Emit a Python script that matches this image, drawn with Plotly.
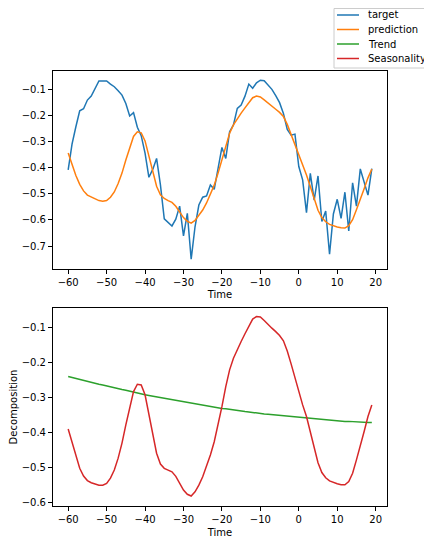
import plotly.graph_objects as go
from plotly.subplots import make_subplots

# time steps -60 .. 19
time = list(range(-60, 20))

target = [
    -0.409, -0.310, -0.244, -0.183, -0.175, -0.142, -0.127, -0.097, -0.069, -0.069,
    -0.069, -0.081, -0.091, -0.106, -0.123, -0.155, -0.203, -0.190, -0.246, -0.278,
    -0.345, -0.437, -0.407, -0.365, -0.466, -0.596, -0.610, -0.623, -0.597, -0.547,
    -0.661, -0.575, -0.750, -0.626, -0.543, -0.513, -0.508, -0.466, -0.483, -0.396,
    -0.323, -0.365, -0.263, -0.237, -0.174, -0.161, -0.127, -0.081, -0.097, -0.076,
    -0.066, -0.068, -0.083, -0.101, -0.125, -0.152, -0.193, -0.254, -0.276, -0.272,
    -0.396, -0.447, -0.572, -0.422, -0.524, -0.432, -0.606, -0.566, -0.731, -0.577,
    -0.521, -0.594, -0.494, -0.642, -0.458, -0.547, -0.405, -0.455, -0.505, -0.404,
]

prediction = [
    -0.344, -0.387, -0.430, -0.464, -0.489, -0.505, -0.513, -0.520, -0.526, -0.528,
    -0.526, -0.513, -0.493, -0.461, -0.421, -0.371, -0.322, -0.281, -0.263, -0.267,
    -0.298, -0.358, -0.422, -0.471, -0.504, -0.518, -0.526, -0.533, -0.548, -0.568,
    -0.591, -0.605, -0.612, -0.602, -0.584, -0.562, -0.535, -0.504, -0.467, -0.421,
    -0.371, -0.315, -0.269, -0.237, -0.213, -0.192, -0.172, -0.150, -0.133, -0.127,
    -0.130, -0.141, -0.154, -0.165, -0.177, -0.189, -0.205, -0.235, -0.273, -0.316,
    -0.355, -0.394, -0.428, -0.472, -0.518, -0.563, -0.591, -0.607, -0.617, -0.623,
    -0.627, -0.630, -0.631, -0.622, -0.599, -0.561, -0.524, -0.481, -0.439, -0.406,
]

trend = [
    -0.241, -0.244, -0.247, -0.249, -0.252, -0.255, -0.257, -0.260, -0.263, -0.265,
    -0.268, -0.270, -0.273, -0.275, -0.278, -0.280, -0.283, -0.285, -0.288, -0.290,
    -0.293, -0.295, -0.297, -0.299, -0.301, -0.303, -0.306, -0.308, -0.310, -0.312,
    -0.314, -0.316, -0.318, -0.320, -0.321, -0.323, -0.325, -0.327, -0.328, -0.330,
    -0.332, -0.333, -0.335, -0.336, -0.338, -0.339, -0.341, -0.342, -0.344, -0.345,
    -0.347, -0.348, -0.349, -0.350, -0.352, -0.353, -0.354, -0.355, -0.356, -0.358,
    -0.359, -0.360, -0.361, -0.362, -0.363, -0.364, -0.364, -0.365, -0.366, -0.367,
    -0.368, -0.368, -0.369, -0.369, -0.370, -0.370, -0.371, -0.371, -0.372, -0.372,
]

seasonality = [
    -0.391, -0.431, -0.471, -0.503, -0.525, -0.538, -0.544, -0.548, -0.551, -0.551,
    -0.546, -0.531, -0.508, -0.474, -0.431, -0.379, -0.327, -0.284, -0.263, -0.265,
    -0.293, -0.351, -0.413, -0.460, -0.491, -0.503, -0.508, -0.513, -0.526, -0.544,
    -0.565, -0.577, -0.582, -0.570, -0.551, -0.527, -0.498, -0.465, -0.427, -0.379,
    -0.327, -0.270, -0.222, -0.189, -0.163, -0.141, -0.119, -0.096, -0.077, -0.070,
    -0.071, -0.081, -0.093, -0.103, -0.113, -0.124, -0.139, -0.168, -0.205, -0.246,
    -0.284, -0.322, -0.355, -0.398, -0.443, -0.487, -0.515, -0.530, -0.539, -0.544,
    -0.547, -0.550, -0.550, -0.541, -0.517, -0.479, -0.441, -0.398, -0.355, -0.322,
]

series_names = ["target", "prediction", "Trend", "Seasonality"]
colors = ["#1f77b4", "#ff7f0e", "#2ca02c", "#d62728"]

x_ticks = [-60, -50, -40, -30, -20, -10, 0, 10, 20]
top_y_ticks = [-0.1, -0.2, -0.3, -0.4, -0.5, -0.6, -0.7]
bottom_y_ticks = [-0.1, -0.2, -0.3, -0.4, -0.5, -0.6]

# page adds an 8px body margin, so positions below are in figure pixels
W, H = 432, 544
ML, MR, MT, MB = 45, 53, 63, 46


def minus(v):
    return str(v).replace("-", "\u2212")


def px(x):
    return (x - ML) / (W - ML - MR)


def py(y):
    return (H - MB - y) / (H - MT - MB)


fig = make_subplots(rows=2, cols=1, vertical_spacing=0.09)

rows = [1, 1, 2, 2]
for name, vals, col, r in zip(series_names, [target, prediction, trend, seasonality], colors, rows):
    fig.add_trace(go.Scatter(x=time, y=vals, mode="lines", name=name, showlegend=False,
                             line=dict(color=col, width=1.5)), row=r, col=1)

axis_style = dict(showline=True, linecolor="black", linewidth=1, mirror=True,
                  showgrid=False, zeroline=False, ticks="outside", ticklen=4,
                  tickcolor="black", tickfont=dict(size=10, color="black"))

for r in (1, 2):
    fig.update_xaxes(axis_style, range=[-63.95, 22.95], tickvals=x_ticks,
                     ticktext=[minus(v) for v in x_ticks],
                     title=dict(text="Time", font=dict(size=10, color="black"), standoff=4),
                     row=r, col=1)

fig.update_yaxes(axis_style, range=[-0.787, -0.031], tickvals=top_y_ticks,
                 ticktext=[minus(v) for v in top_y_ticks], domain=[0.545, 1.0], row=1, col=1)
fig.update_yaxes(axis_style, range=[-0.6105, -0.0457], tickvals=bottom_y_ticks,
                 ticktext=[minus(v) for v in bottom_y_ticks], domain=[0.0, 0.455],
                 title=dict(text="Decomposition", font=dict(size=10, color="black"), standoff=6),
                 row=2, col=1)

# figure-level legend drawn by hand (matplotlib fig.legend look)
fig.add_shape(type="rect", xref="paper", yref="paper",
              x0=px(326), x1=px(420), y0=py(60), y1=py(0.5),
              line=dict(color="#cccccc", width=1), fillcolor="white")
for i, (name, col) in enumerate(zip(series_names, colors)):
    yy = 7 + i * 14.5
    fig.add_shape(type="line", xref="paper", yref="paper",
                  x0=px(329), x1=px(351), y0=py(yy), y1=py(yy),
                  line=dict(color=col, width=1.5))
    fig.add_annotation(x=px(358), y=py(yy), xref="paper", yref="paper", text=name,
                       showarrow=False, xanchor="left", yanchor="middle",
                       font=dict(size=10, color="black"))

fig.update_layout(
    width=W, height=H,
    margin=dict(l=ML, r=MR, t=MT, b=MB, autoexpand=False),
    paper_bgcolor="white", plot_bgcolor="white",
    font=dict(family="DejaVu Sans", size=10, color="black"),
    showlegend=False,
)

fig.write_html("out.html")
